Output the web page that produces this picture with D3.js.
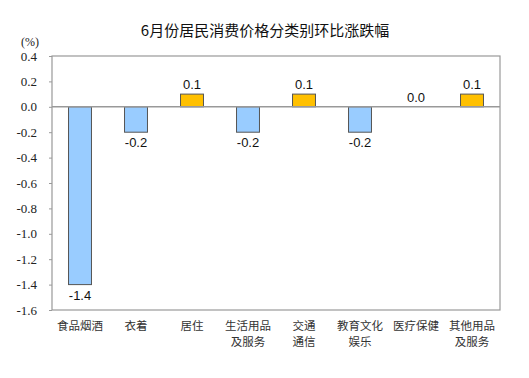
<!DOCTYPE html>
<html>
<head>
<meta charset="utf-8">
<script src="https://cdn.jsdelivr.net/npm/d3@7"></script>
<style>
  body { margin: 0; background: #fff; }
</style>
</head>
<body>
<div id="chart"></div>
<script>
// data
let categories = ["食品烟酒", "衣着", "居住", "生活用品\n及服务", "交通\n通信", "教育文化\n娱乐", "医疗保健", "其他用品\n及服务"];
let values = [-1.4, -0.2, 0.1, -0.2, 0.1, -0.2, 0.0, 0.1];
let yTicks = [0.4, 0.2, 0.0, -0.2, -0.4, -0.6, -0.8, -1.0, -1.2, -1.4, -1.6];

let width = 529, height = 378;
let margin = {top: 56, right: 29, bottom: 68, left: 52};
let w = width - margin.left - margin.right,
    h = height - margin.top - margin.bottom;

let svg = d3.select("#chart").append("svg")
    .attr("width", width)
    .attr("height", height);

svg.append("text")
    .attr("x", 265).attr("y", 36)
    .attr("text-anchor", "middle")
    .style("font-family", "'Noto Sans CJK SC', sans-serif")
    .style("font-size", "15px")
    .attr("fill", "#111")
    .text("6月份居民消费价格分类别环比涨跌幅");

svg.append("text")
    .attr("x", 30).attr("y", 46)
    .attr("text-anchor", "middle")
    .style("font-family", "'Liberation Serif', serif")
    .style("font-size", "12px")
    .attr("fill", "#222")
    .text("(%)");

let g = svg.append("g")
    .attr("transform", "translate(" + margin.left + "," + margin.top + ")");

let x = d3.scaleBand()
    .domain(categories)
    .range([0, w])
    .paddingInner(0.59)
    .paddingOuter(0.295);

let y = d3.scaleLinear()
    .domain([-1.6, 0.4])
    .range([h, 0]);

// frame
g.append("rect")
    .attr("x", 0).attr("y", 0)
    .attr("width", w).attr("height", h)
    .attr("fill", "none")
    .attr("stroke", "#999")
    .attr("stroke-width", 1.2);

// y axis
let yAxis = d3.axisLeft(y)
    .tickValues(yTicks)
    .tickSize(3)
    .tickPadding(12)
    .tickFormat(d3.format(".1f"));

let yAxisGroup = g.append("g").call(yAxis);
yAxisGroup.select(".domain").remove();
yAxisGroup.selectAll(".tick line").attr("stroke", "#999");
yAxisGroup.selectAll("text")
    .style("font-family", "'Liberation Serif', serif")
    .style("font-size", "13px")
    .attr("fill", "#222")
    .text(d => d3.format(".1f")(d).replace("−", "-"));

// bars
g.selectAll(".bar")
    .data(values)
    .enter().append("rect")
    .attr("class", "bar")
    .attr("x", (d, i) => x(categories[i]))
    .attr("width", x.bandwidth())
    .attr("y", d => y(Math.max(0, d)))
    .attr("height", d => Math.abs(y(d) - y(0)))
    .attr("fill", d => d > 0 ? "#ffc000" : "#99ccff")
    .attr("stroke", "#555")
    .attr("stroke-width", 1);

// zero line
g.append("line")
    .attr("x1", 0).attr("x2", w)
    .attr("y1", y(0)).attr("y2", y(0))
    .attr("stroke", "#999")
    .attr("stroke-width", 1.5);

// value labels
g.selectAll(".val")
    .data(values)
    .enter().append("text")
    .attr("class", "val")
    .attr("x", (d, i) => x(categories[i]) + x.bandwidth() / 2)
    .attr("y", d => d < 0 ? y(d) + 15 : y(d) - 5)
    .attr("text-anchor", "middle")
    .style("font-family", "'Liberation Sans', Arial, sans-serif")
    .style("font-size", "13px")
    .attr("fill", "#111")
    .text(d => d3.format(".1f")(d).replace("−", "-"));

// category labels, one text per line
let catLines = [];
categories.forEach(c => {
    c.split("\n").forEach((l, i) => catLines.push({cat: c, line: l, row: i}));
});

g.selectAll(".cat")
    .data(catLines)
    .enter().append("text")
    .attr("class", "cat")
    .attr("x", d => x(d.cat) + x.bandwidth() / 2)
    .attr("y", d => h + 19.5 + d.row * 16.8)
    .attr("text-anchor", "middle")
    .style("font-family", "'Noto Sans CJK SC', sans-serif")
    .style("font-size", "11.5px")
    .attr("fill", "#333")
    .text(d => d.line);
</script>
</body>
</html>
